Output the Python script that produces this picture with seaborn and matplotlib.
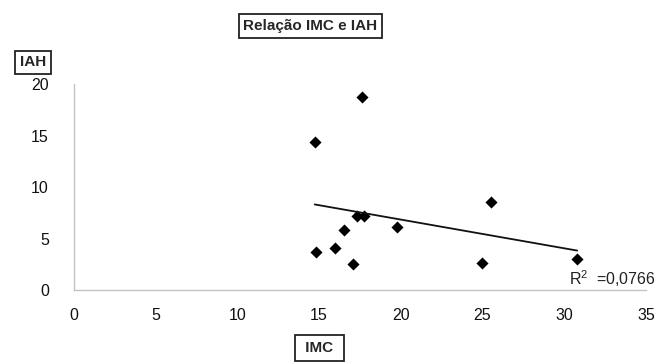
import numpy as np
import pandas as pd
import seaborn as sns
import matplotlib.pyplot as plt

# Values (IMC on x, IAH on y)
imc = [14.73, 17.60, 14.82, 15.95, 16.54, 17.05, 17.32, 17.77, 19.76, 25.52, 24.99, 30.79]
iah = [14.43, 18.75, 3.67, 4.06, 5.84, 2.53, 7.23, 7.23, 6.13, 8.59, 2.66, 3.04]
x_ticks = [0, 5, 10, 15, 20, 25, 30, 35]
y_ticks = [0, 5, 10, 15, 20]
r2_label = "0,0766"

df = pd.DataFrame({"IMC": imc, "IAH": iah})

sns.set_style("white")
plt.rcParams['font.family'] = ['Liberation Sans', 'DejaVu Sans']
plt.rcParams['mathtext.fontset'] = 'custom'
plt.rcParams['mathtext.rm'] = 'Liberation Sans'
plt.rcParams['mathtext.default'] = 'regular'

fig = plt.figure(figsize=(6.67, 3.64), dpi=100)
ax = fig.add_axes([0.1109, 0.2033, 0.8576, 0.5651])

# scatter + linear trend line (Excel-style)
sns.regplot(data=df, x="IMC", y="IAH", ci=None, truncate=True, marker="D",
            color="black", ax=ax,
            scatter_kws={"s": 38, "linewidths": 0, "alpha": 1},
            line_kws={"lw": 1.3, "color": "#111111"})

ax.set_xlim(0, 35)
ax.set_ylim(0, 20)
ax.set_xticks(x_ticks)
ax.set_yticks(y_ticks)
ax.set_xlabel("")
ax.set_ylabel("")
for s in ["top", "right"]:
    ax.spines[s].set_visible(False)
for s in ["left", "bottom"]:
    ax.spines[s].set_color("#c4c4c4")
    ax.spines[s].set_linewidth(1.0)
ax.tick_params(axis="both", direction="out", length=4, width=1.0,
               color="#c4c4c4", labelsize=11.5, labelcolor="#111111")
ax.tick_params(axis="y", pad=14)
ax.tick_params(axis="x", pad=9)

box = dict(boxstyle="square,pad=0.3", fc="white", ec="#222222", lw=1.3)
fig.text(0.4655, 0.9286, "Relação IMC e IAH", ha="center", va="center",
         fontsize=11, fontweight="bold", bbox=box)
fig.text(0.0495, 0.8283, "IAH", ha="center", va="center",
         fontsize=11, fontweight="bold", bbox=box)
fig.text(0.479, 0.044, " IMC ", ha="center", va="center",
         fontsize=11, fontweight="bold",
         bbox=dict(boxstyle="square,pad=0.4", fc="white", ec="#222222", lw=1.3))

fig.text(0.853, 0.2335, r"R$^{2}$  =" + r2_label, ha="left", va="center",
         fontsize=11.5, color="#222222")

fig.savefig("out.png", dpi=100)
